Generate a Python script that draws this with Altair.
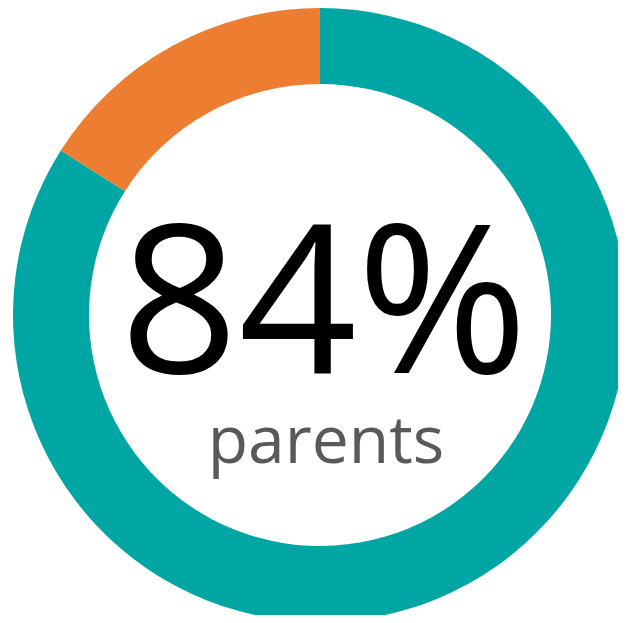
import altair as alt
import pandas as pd

categories = ["parents", "other"]
values = [84, 16]
colors = ["#00A6A4", "#ED7D31"]
big_label = ["84%"]
sub_label = ["parents"]

df = pd.DataFrame({"category": categories, "value": values, "order": [0, 1]})

donut = alt.Chart(df).mark_arc(outerRadius=307, innerRadius=231).encode(
    theta=alt.Theta("value:Q", stack=True),
    order=alt.Order("order:Q"),
    color=alt.Color("category:N", scale=alt.Scale(domain=categories, range=colors), legend=None),
    x=alt.value(312),
    y=alt.value(307),
)

big = alt.Chart(pd.DataFrame({"t": big_label})).mark_text(
    font="Open Sans", fontSize=207, color="#000000", align="center", baseline="alphabetic"
).encode(text="t:N", x=alt.value(316), y=alt.value(365))

sub = alt.Chart(pd.DataFrame({"t": sub_label})).mark_text(
    font="Open Sans", fontSize=66, color="#595959", align="center", baseline="alphabetic"
).encode(text="t:N", x=alt.value(318), y=alt.value(455))

chart = alt.layer(donut, big, sub).properties(
    width=610, height=607, autosize=alt.AutoSizeParams(type="none"), padding=0
).configure_view(stroke=None)

chart.save("out.html", embed_options={"renderer": "svg", "actions": False})
